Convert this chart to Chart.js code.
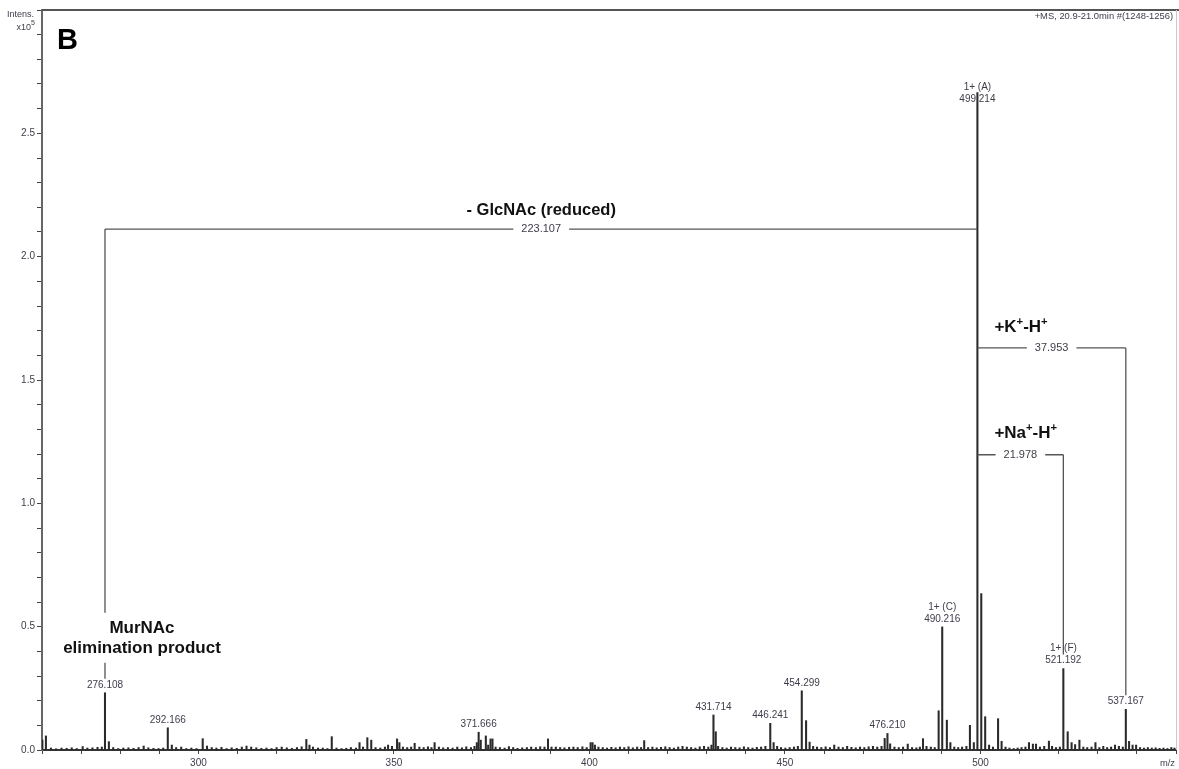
<!DOCTYPE html>
<html>
<head>
<meta charset="utf-8">
<script src="https://cdn.jsdelivr.net/npm/chart.js@4.4.1/dist/chart.umd.min.js"></script>
<style>
  html, body { margin: 0; padding: 0; background: #ffffff; }
  #wrap { position: relative; width: 1179px; height: 769px; }
</style>
</head>
<body>
<div id="wrap"><canvas id="ms" width="1179" height="769"></canvas></div>
<script>
// ---- Spectrum data (intensity in units of 10^5) ----

// Annotated peaks
const labelMz        = [276.108, 292.166, 371.666, 431.714, 446.241, 454.299, 476.210, 490.216, 499.214, 521.192, 537.167];
const labelIntensity = [0.232,   0.090,   0.072,   0.142,   0.108,   0.240,   0.067,   0.499,   2.665,   0.330,   0.165];
const labelCharge    = ['',      '',      '',      '',      '',      '',      '',      '1+ (C)', '1+ (A)', '1+ (F)', ''];

// Unlabelled peaks and baseline noise
const minorMz = [
  260.1, 261.0, 262.3, 263.6, 265.0, 266.3, 267.6, 268.9, 270.4, 271.6,
  272.9, 274.2, 275.3, 277.1, 278.2, 279.5, 280.8, 282.1, 283.4, 284.7,
  286.0, 287.2, 288.5, 289.8, 291.0, 293.2, 294.3, 295.6, 296.9, 298.2,
  299.5, 301.1, 302.2, 303.4, 304.6, 305.9, 307.2, 308.5, 309.8, 311.1,
  312.3, 313.5, 314.8, 316.1, 317.4, 318.7, 320.0, 321.3, 322.6, 323.9,
  325.2, 326.4, 327.6, 328.4, 329.3, 330.6, 331.8, 333.0, 334.1, 335.3,
  336.6, 337.8, 339.0, 340.3, 341.2, 342.1, 343.2, 344.2, 345.3, 346.5,
  347.7, 348.5, 349.5, 350.8, 351.4, 352.3, 353.4, 354.4, 355.3, 356.5,
  357.6, 358.7, 359.6, 360.4, 361.5, 362.6, 363.8, 365.0, 366.2, 367.4,
  368.5, 369.7, 370.6, 371.2, 372.2, 373.5, 374.1, 374.7, 375.2, 376.0,
  377.1, 378.3, 379.4, 380.5, 381.6, 382.8, 384.0, 385.1, 386.3, 387.4,
  388.5, 389.4, 390.3, 391.4, 392.5, 393.6, 394.8, 395.9, 397.0, 398.2,
  399.3, 400.3, 400.8, 401.4, 402.3, 403.4, 404.5, 405.6, 406.7, 407.8,
  408.9, 410.0, 411.1, 412.2, 413.2, 414.0, 415.0, 416.1, 417.2, 418.3,
  419.4, 420.5, 421.6, 422.7, 423.8, 424.9, 426.0, 427.1, 428.2, 429.3,
  430.4, 431.2, 432.3, 432.9, 434.0, 435.1, 436.2, 437.3, 438.4, 439.5,
  440.6, 441.7, 442.8, 443.9, 445.0, 447.1, 448.0, 449.0, 450.1, 451.2,
  452.3, 453.3, 455.4, 456.3, 457.2, 458.2, 459.3, 460.4, 461.5, 462.6,
  463.7, 464.8, 465.9, 467.0, 468.1, 469.2, 470.3, 471.4, 472.5, 473.6,
  474.7, 475.5, 476.9, 478.0, 479.1, 480.2, 481.4, 482.5, 483.6, 484.5,
  485.3, 486.2, 487.3, 488.3, 489.3, 491.4, 492.3, 493.3, 494.3, 495.3,
  496.4, 497.3, 498.3, 500.2, 501.2, 502.2, 503.2, 504.5, 505.4, 506.4,
  507.4, 508.5, 509.5, 510.5, 511.5, 512.4, 513.4, 514.2, 515.2, 516.3,
  517.5, 518.3, 519.3, 520.3, 522.3, 523.3, 524.2, 525.3, 526.3, 527.3,
  528.4, 529.4, 530.4, 531.4, 532.4, 533.4, 534.4, 535.4, 536.4, 538.0,
  538.9, 539.8, 540.8, 541.8, 542.8, 543.8, 544.8, 545.8, 546.8, 547.8,
  548.8, 549.6
];
const minorIntensity = [
  0.040, 0.057, 0.008, 0.005, 0.008, 0.007, 0.009, 0.006, 0.014, 0.008,
  0.009, 0.011, 0.012, 0.034, 0.010, 0.006, 0.008, 0.009, 0.007, 0.010,
  0.016, 0.009, 0.007, 0.006, 0.008, 0.020, 0.010, 0.012, 0.006, 0.008,
  0.006, 0.046, 0.016, 0.010, 0.008, 0.011, 0.006, 0.009, 0.007, 0.012,
  0.016, 0.012, 0.009, 0.007, 0.008, 0.006, 0.010, 0.012, 0.009, 0.007,
  0.010, 0.013, 0.043, 0.020, 0.012, 0.008, 0.008, 0.006, 0.054, 0.008,
  0.006, 0.007, 0.010, 0.008, 0.030, 0.012, 0.050, 0.040, 0.010, 0.008,
  0.012, 0.020, 0.015, 0.045, 0.030, 0.012, 0.010, 0.012, 0.027, 0.012,
  0.010, 0.013, 0.010, 0.030, 0.012, 0.009, 0.010, 0.008, 0.012, 0.009,
  0.013, 0.010, 0.015, 0.030, 0.040, 0.057, 0.020, 0.045, 0.045, 0.012,
  0.010, 0.008, 0.014, 0.010, 0.007, 0.009, 0.010, 0.012, 0.010, 0.013,
  0.012, 0.045, 0.012, 0.012, 0.010, 0.009, 0.011, 0.012, 0.010, 0.013,
  0.010, 0.030, 0.030, 0.020, 0.012, 0.010, 0.008, 0.011, 0.009, 0.012,
  0.010, 0.013, 0.009, 0.012, 0.010, 0.038, 0.010, 0.012, 0.009, 0.011,
  0.013, 0.010, 0.008, 0.012, 0.015, 0.012, 0.010, 0.008, 0.013, 0.015,
  0.012, 0.020, 0.074, 0.015, 0.010, 0.008, 0.012, 0.010, 0.009, 0.013,
  0.010, 0.008, 0.011, 0.012, 0.015, 0.030, 0.015, 0.010, 0.008, 0.010,
  0.012, 0.015, 0.119, 0.032, 0.015, 0.012, 0.010, 0.013, 0.010, 0.020,
  0.012, 0.010, 0.015, 0.011, 0.009, 0.012, 0.010, 0.013, 0.015, 0.012,
  0.015, 0.047, 0.025, 0.012, 0.010, 0.012, 0.024, 0.010, 0.009, 0.012,
  0.046, 0.015, 0.012, 0.010, 0.159, 0.121, 0.030, 0.012, 0.010, 0.012,
  0.015, 0.100, 0.030, 0.634, 0.135, 0.020, 0.012, 0.127, 0.035, 0.012,
  0.008, 0.006, 0.008, 0.010, 0.012, 0.030, 0.024, 0.024, 0.012, 0.015,
  0.036, 0.015, 0.010, 0.012, 0.074, 0.030, 0.022, 0.040, 0.012, 0.010,
  0.012, 0.030, 0.010, 0.015, 0.010, 0.012, 0.020, 0.015, 0.012, 0.035,
  0.020, 0.020, 0.010, 0.008, 0.010, 0.008, 0.009, 0.007, 0.008, 0.006,
  0.010, 0.008
];

// Mass-difference brackets between peaks
const bracketFrom  = [276.108, 499.214, 499.214];
const bracketTo    = [499.214, 537.167, 521.192];
const bracketLevel = [2.112,   1.630,   1.197];
const bracketText  = ['223.107', '37.953', '21.978'];

// Axis ranges and tick settings
const mzRange   = [260, 550];
const intRange  = [0, 3.0];
const mzStep    = 10;
const mzLabelEvery  = 50;
const intStep   = 0.1;
const intLabelEvery = 0.5;

// ---- Styling ----
const FONT = '"Liberation Sans", Arial, Helvetica, sans-serif';
const TEXT_GREY = '#3d3d4a';
const STICK = '#2a2a2a';
const LABEL_LIFT = { '499.214': -7 };   // peak label sits across the tall line

Chart.defaults.font.family = FONT;

const points = labelMz.map((m, i) => ({ x: m, y: labelIntensity[i] }))
  .concat(minorMz.map((m, i) => ({ x: m, y: minorIntensity[i] })))
  .sort((a, b) => a.x - b.x);

function peakTop(yScale, mz) {
  const i = labelMz.indexOf(mz);
  return yScale.getPixelForValue(labelIntensity[i]);
}

function drawSupText(ctx, parts, x, y, size, weight) {
  let cx = x;
  ctx.textAlign = 'left';
  ctx.textBaseline = 'alphabetic';
  parts.forEach(([t, sup]) => {
    const s = sup ? size * 0.66 : size;
    ctx.font = `${weight} ${s}px ${FONT}`;
    ctx.fillText(t, cx, sup ? y - size * 0.42 : y);
    cx += ctx.measureText(t).width;
  });
}

const annotations = {
  id: 'spectrumAnnotations',
  afterDatasetsDraw(chart) {
    const { ctx, scales: { x, y } } = chart;
    ctx.save();

    // peak labels
    ctx.font = `10px ${FONT}`;
    ctx.fillStyle = TEXT_GREY;
    ctx.textAlign = 'center';
    ctx.textBaseline = 'middle';
    labelMz.forEach((mz, i) => {
      const px = x.getPixelForValue(mz);
      const top = y.getPixelForValue(labelIntensity[i]);
      const key = mz.toFixed(3);
      const lift = key in LABEL_LIFT ? LABEL_LIFT[key] : 8;
      ctx.fillText(key, px, top - lift);
      if (labelCharge[i]) ctx.fillText(labelCharge[i], px, top - lift - 12);
    });

    // brackets
    ctx.strokeStyle = '#555555';
    ctx.lineWidth = 1.3;
    ctx.font = `11px ${FONT}`;
    bracketFrom.forEach((from, i) => {
      const x1 = x.getPixelForValue(from);
      const x2 = x.getPixelForValue(bracketTo[i]);
      const ly = y.getPixelForValue(bracketLevel[i]);
      const xm = (x1 + x2) / 2;
      const half = ctx.measureText(bracketText[i]).width / 2 + 8;
      ctx.beginPath();
      ctx.moveTo(x1, ly); ctx.lineTo(xm - half, ly);
      ctx.moveTo(xm + half, ly); ctx.lineTo(x2, ly);
      [from, bracketTo[i]].forEach(end => {
        const stop = peakTop(y, end) - 14;
        if (stop > ly) {
          const ex = x.getPixelForValue(end);
          ctx.moveTo(ex, ly); ctx.lineTo(ex, stop);
        }
      });
      ctx.stroke();
      ctx.fillStyle = TEXT_GREY;
      ctx.textAlign = 'center';
      ctx.textBaseline = 'middle';
      ctx.fillText(bracketText[i], xm, ly);
    });

    // bracket captions
    ctx.fillStyle = '#111111';
    const g0 = (x.getPixelForValue(bracketFrom[0]) + x.getPixelForValue(bracketTo[0])) / 2;
    ctx.font = `bold 16.5px ${FONT}`;
    ctx.textAlign = 'center';
    ctx.textBaseline = 'alphabetic';
    ctx.fillText('- GlcNAc (reduced)', g0, y.getPixelForValue(bracketLevel[0]) - 14);

    const leftX = x.getPixelForValue(499.214) + 17;
    drawSupText(ctx, [['+K', false], ['+', true], ['-H', false], ['+', true]],
      leftX, y.getPixelForValue(bracketLevel[1]) - 16, 17, 'bold');
    drawSupText(ctx, [['+Na', false], ['+', true], ['-H', false], ['+', true]],
      leftX, y.getPixelForValue(bracketLevel[2]) - 17, 17, 'bold');

    // MurNAc caption on a white panel over the bracket leg
    const mx = x.getPixelForValue(276.108) + 37;
    const mt = peakTop(y, 276.108);
    ctx.font = `bold 17px ${FONT}`;
    const w = ctx.measureText('elimination product').width;
    ctx.fillStyle = '#ffffff';
    ctx.fillRect(mx - w / 2 - 3, mt - 80, w + 6, 50);
    ctx.fillStyle = '#111111';
    ctx.textAlign = 'center';
    ctx.fillText('MurNAc', mx, mt - 60);
    ctx.fillText('elimination product', mx, mt - 40);

    ctx.restore();
  },
  afterDraw(chart) {
    const { ctx, chartArea: a } = chart;
    ctx.save();
    // frame
    ctx.strokeStyle = '#555555';
    ctx.lineWidth = 2;
    ctx.beginPath();
    ctx.moveTo(a.left, a.top); ctx.lineTo(chart.width, a.top);
    ctx.stroke();
    ctx.strokeStyle = '#c8c8c8';
    ctx.lineWidth = 1;
    ctx.beginPath();
    ctx.moveTo(a.right + 0.5, a.top); ctx.lineTo(a.right + 0.5, a.bottom);
    ctx.stroke();

    // panel letter
    ctx.fillStyle = '#000000';
    ctx.font = `bold 29px ${FONT}`;
    ctx.textAlign = 'left';
    ctx.textBaseline = 'alphabetic';
    ctx.fillText('B', 57, 49);

    // axis titles and acquisition info
    ctx.fillStyle = TEXT_GREY;
    ctx.font = `9px ${FONT}`;
    ctx.textAlign = 'right';
    ctx.fillText('Intens.', 34, 17);
    ctx.font = `7px ${FONT}`;
    ctx.fillText('5', 35, 25);
    const w5 = ctx.measureText('5').width;
    ctx.font = `9px ${FONT}`;
    ctx.fillText('x10', 35 - w5, 30);
    ctx.font = `9.4px ${FONT}`;
    ctx.fillText('+MS, 20.9-21.0min #(1248-1256)', 1173, 19);
    ctx.fillText('m/z', 1175, 766);
    ctx.restore();
  }
};

new Chart(document.getElementById('ms'), {
  type: 'bar',
  data: {
    datasets: [{
      data: points,
      backgroundColor: STICK,
      borderWidth: 0,
      barThickness: 1.4,
      grouped: false
    }]
  },
  options: {
    responsive: false,
    animation: false,
    devicePixelRatio: 1,
    layout: { padding: { top: 10, right: 3, left: 0, bottom: 0 } },
    plugins: { legend: { display: false }, tooltip: { enabled: false } },
    scales: {
      x: {
        type: 'linear',
        min: mzRange[0], max: mzRange[1],
        offset: false,
        afterFit(s) { s.height = 19; s.paddingLeft = 0; s.paddingRight = 0; },
        border: { display: true, color: '#333333', width: 2 },
        grid: { display: true, offset: false, drawOnChartArea: false, drawTicks: true, tickLength: 4, color: '#444444' },
        ticks: {
          stepSize: mzStep, autoSkip: false, maxRotation: 0, padding: 3,
          color: TEXT_GREY, font: { size: 10 },
          callback: v => (Math.abs(v % mzLabelEvery) < 1e-6 && v > mzRange[0] && v < mzRange[1] ? String(v) : '')
        }
      },
      y: {
        type: 'linear',
        min: intRange[0], max: intRange[1],
        afterFit(s) { s.width = 42; },
        border: { display: true, color: '#666666', width: 2 },
        grid: { display: true, drawOnChartArea: false, drawTicks: true, tickLength: 5, color: '#444444' },
        ticks: {
          stepSize: intStep, autoSkip: false, maxTicksLimit: 100, padding: 2,
          color: TEXT_GREY, font: { size: 10 },
          callback: v => {
            const r = v / intLabelEvery;
            return (Math.abs(r - Math.round(r)) < 1e-6 && v < intRange[1] - 1e-6) ? v.toFixed(1) : '';
          }
        }
      }
    }
  },
  plugins: [annotations]
});
</script>
</body>
</html>
